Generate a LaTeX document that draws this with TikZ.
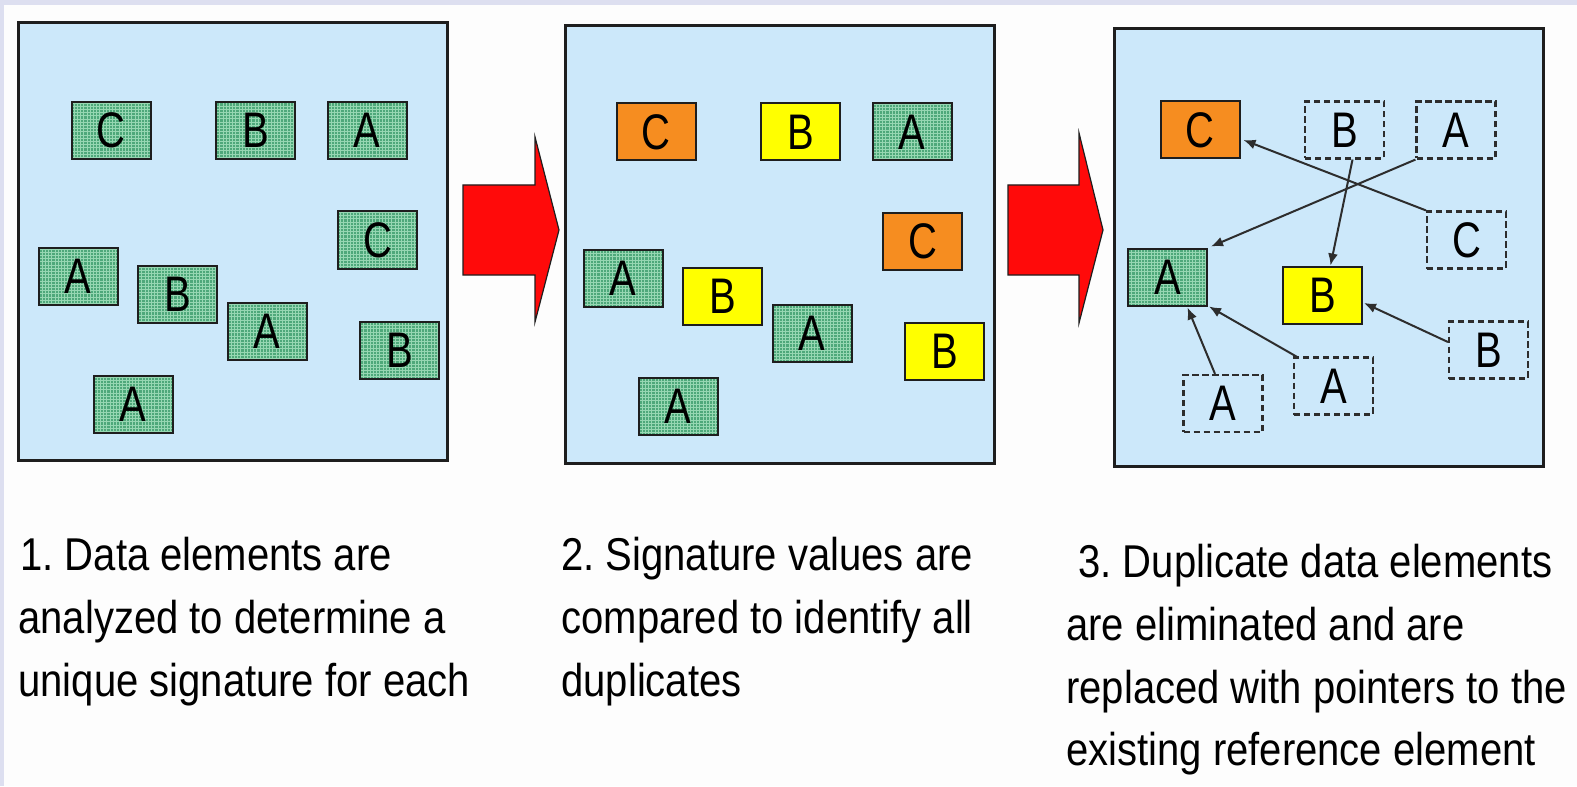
\documentclass[tikz,border=0pt]{standalone}
\usepackage{fontspec}
\setmainfont{Liberation Sans}
\newfontfamily\boxfont[FakeStretch=0.8]{Liberation Sans}
\newfontfamily\capfont[FakeStretch=0.87]{Liberation Sans}
\usetikzlibrary{arrows.meta,calc}

\definecolor{pagebg}{RGB}{253,253,253}
\definecolor{rimcol}{RGB}{221,223,240}
\definecolor{panelfill}{RGB}{204,232,250}
\definecolor{edgecol}{RGB}{30,30,30}
\definecolor{greenfill}{RGB}{78,168,122}
\definecolor{greengrid}{RGB}{150,215,178}
\definecolor{orangefill}{RGB}{246,141,32}
\definecolor{yellowfill}{RGB}{255,255,0}
\definecolor{redfill}{RGB}{255,10,10}
\definecolor{ptrcol}{RGB}{45,45,45}

\tikzset{
  panel/.style={draw=edgecol, line width=1.5pt, fill=panelfill,
    minimum width=214.5pt, minimum height=218.5pt, inner sep=0pt},
  elem/.style={draw=edgecol, line width=1pt, minimum width=39.5pt,
    minimum height=28.5pt, inner sep=0pt, font=\boxfont\fontsize{25}{25}\selectfont},
  greenbox/.style={elem, fill=greenfill,
    path picture={\draw[greengrid, line width=0.4pt, step=1.6pt]
      (path picture bounding box.south west) grid (path picture bounding box.north east);}},
  orangebox/.style={elem, fill=orangefill},
  yellowbox/.style={elem, fill=yellowfill},
  ghostbox/.style={elem, draw=ptrcol, line width=1.1pt, dash pattern=on 3.2pt off 1.8pt},
  pointer/.style={draw=ptrcol, line width=1pt, -{Latex[length=6pt,width=5pt]}},
  bigarrow/.style={fill=redfill, draw=edgecol, line width=0.6pt},
  caption/.style={anchor=base west, inner sep=0pt,
    font=\capfont\fontsize{23}{23}\selectfont\frenchspacing}
}

\begin{document}
\begin{tikzpicture}[x=0.5pt, y=-0.5pt]
  % page and thin rim along the top and left edges
  \fill[pagebg] (0,0) rectangle (1577,786);
  \fill[rimcol] (0,0) rectangle (1577,5);
  \fill[rimcol] (0,0) rectangle (4,786);
  \useasboundingbox (0,0) rectangle (1577,786);

  % three stage panels
  \node[panel] (p1) at (232.5,241.5) {};
  \node[panel] (p2) at (779.5,244.5) {};
  \node[panel] (p3) at (1329,247.5) {};

  % stage 1: raw data elements
  \node[greenbox] (a1c1) at (111,130.5) {C};
  \node[greenbox] (a1b1) at (255.5,130.5) {B};
  \node[greenbox] (a1a1) at (367,130.5) {A};
  \node[greenbox] (a1c2) at (377.5,240) {C};
  \node[greenbox] (a1a2) at (78,276.5) {A};
  \node[greenbox] (a1b2) at (177.5,294.5) {B};
  \node[greenbox] (a1a3) at (267,331.5) {A};
  \node[greenbox] (a1b3) at (399.5,350) {B};
  \node[greenbox] (a1a4) at (133,404.5) {A};

  % stage 2: elements coloured by signature
  \begin{scope}[shift={(545,1.5)}]
    \node[orangebox] (a2c1) at (111,130.5) {C};
    \node[yellowbox] (a2b1) at (255.5,130.5) {B};
    \node[greenbox]  (a2a1) at (367,130.5) {A};
    \node[orangebox] (a2c2) at (377.5,240) {C};
    \node[greenbox]  (a2a2) at (78,276.5) {A};
    \node[yellowbox] (a2b2) at (177.5,294.5) {B};
    \node[greenbox]  (a2a3) at (267,331.5) {A};
    \node[yellowbox] (a2b3) at (399.5,350) {B};
    \node[greenbox]  (a2a4) at (133,404.5) {A};
  \end{scope}

  % stage 3: kept elements and replaced duplicates
  \node[orangebox] (keepC) at (1200,130) {C};
  \node[greenbox]  (keepA) at (1167.5,277) {A};
  \node[yellowbox] (keepB) at (1322.5,295) {B};
  \node[ghostbox] (dupB1) at (1344.5,130) {B};
  \node[ghostbox] (dupA1) at (1456,130) {A};
  \node[ghostbox] (dupC1) at (1466.5,240) {C};
  \node[ghostbox] (dupB2) at (1488.5,350) {B};
  \node[ghostbox] (dupA2) at (1333.5,386) {A};
  \node[ghostbox] (dupA3) at (1223,403.5) {A};

  % pointers to the kept elements
  \draw[pointer] (dupC1.north west) -- ($(keepC.east)+(3,10)$);
  \draw[pointer] (dupA1.south west) -- ($(keepA.north east)+(3,-1)$);
  \draw[pointer] ($(dupB1.south)+(8,0)$) -- ($(keepB.north)+(8,0)$);
  \draw[pointer] ($(dupB2.west)+(0,-8)$) -- ($(keepB.east)+(1,8)$);
  \draw[pointer] ($(dupA2.north west)+(5,1)$) -- ($(keepA.south east)+(1,0)$);
  \draw[pointer] ($(dupA3.north)+(-8,0)$) -- ($(keepA.south)+(20,1)$);

  % large red arrows between the stages
  \draw[bigarrow] (463,185) -- (535,185) -- (535,137) -- (559,230)
    -- (535,322) -- (535,275) -- (463,275) -- cycle;
  \draw[bigarrow] (1008,185) -- (1079,185) -- (1079,133) -- (1103,230)
    -- (1079,323) -- (1079,275) -- (1008,275) -- cycle;

  % captions
  \node[caption] (t1a) at (20,570) {1. Data elements are};
  \node[caption] (t1b) at (18,633) {analyzed to determine a};
  \node[caption] (t1c) at (18,696) {unique signature for each};
  \node[caption] (t2a) at (561,570) {2. Signature values are};
  \node[caption] (t2b) at (561,633) {compared to identify all};
  \node[caption] (t2c) at (561,696) {duplicates};
  \node[caption] (t3a) at (1078,577) {3. Duplicate data elements};
  \node[caption] (t3b) at (1066,640) {are eliminated and are};
  \node[caption] (t3c) at (1066,703) {replaced with pointers to the};
  \node[caption] (t3d) at (1066,765) {existing reference element};
\end{tikzpicture}
\end{document}
